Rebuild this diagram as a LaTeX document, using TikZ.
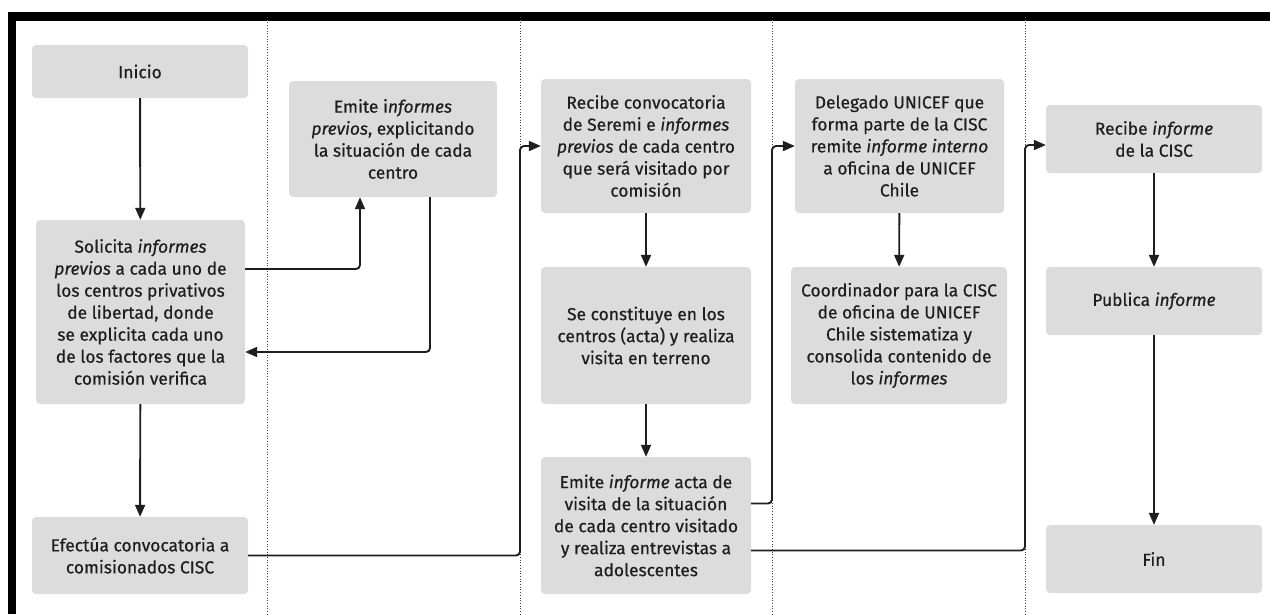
\documentclass[tikz,border=0pt]{standalone}
\usepackage{fontspec}
\setmainfont{Fira Sans}[FakeBold=0.5]
\usetikzlibrary{arrows.meta}
\definecolor{cajagris}{HTML}{DCDCDC}
\definecolor{tinta}{HTML}{1E1E1E}
\tikzset{paso/.style={fill=cajagris, rounded corners=4pt, align=center, inner sep=0pt, text=tinta,
    font=\fontsize{17.4}{22}\selectfont},
  flecha/.style={-{Triangle[length=12pt,width=10pt]}, line width=1.9pt, rounded corners=4pt, tinta},
  carril/.style={dotted, line width=0.7pt, black!75}}

\begin{document}
\begin{tikzpicture}[x=1pt,y=-1pt]
\useasboundingbox (0,0) rectangle (1270,614);
\fill[black] (8,12) rectangle (1270,21);
\fill[black] (8,12) rectangle (16,614);
\foreach \xc/\nombre in {267/l1,520/l2,772/l3,1025/l4}{
  \coordinate (\nombre) at (\xc,0);
  \draw[carril] (\xc,17) -- (\xc,614);
}

\node[paso, minimum width=216pt, minimum height=53pt] (inicio) at (140,71.5) {Inicio};
\node[paso, minimum width=209pt, minimum height=184pt] (solicita) at (140.5,312) {Solicita \textit{informes}\\ \textit{previos} a cada uno de\\ los centros privativos\\ de libertad, donde\\ se explicita cada uno\\ de los factores que la\\ comisión verifica};
\node[paso, minimum width=216pt, minimum height=77pt] (efectua) at (140,555.5) {Efectúa convocatoria a\\ comisionados CISC};
\node[paso, minimum width=208pt, minimum height=116pt] (previos) at (393,139) {Emite i\textit{nformes}\\ \textit{previos}, explicitando\\ la situación de cada\\ centro};
\node[paso, minimum width=210pt, minimum height=134pt] (recibeconv) at (646,146) {Recibe convocatoria\\ de Seremi e \textit{informes}\\ \textit{previos} de cada centro\\ que será visitado por\\ comisión};
\node[paso, minimum width=210pt, minimum height=137pt] (constituye) at (646,335.5) {Se constituye en los\\ centros (acta) y realiza\\ visita en terreno};
\node[paso, minimum width=210pt, minimum height=137pt] (acta) at (646,525.5) {Emite \textit{informe} acta de\\ visita de la situación\\ de cada centro visitado\\ y realiza entrevistas a\\ adolescentes};
\node[paso, minimum width=209pt, minimum height=134pt] (delegado) at (899.5,146) {Delegado UNICEF que\\ forma parte de la CISC\\ remite \textit{informe interno}\\ a oficina de UNICEF\\ Chile};
\node[paso, minimum width=216pt, minimum height=137pt] (coord) at (899,335.5) {Coordinador para la CISC\\ de oficina de UNICEF\\ Chile sistematiza y\\ consolida contenido de\\ los \textit{informes}};
\node[paso, minimum width=216pt, minimum height=68pt] (recibeinf) at (1154,139) {Recibe \textit{informe}\\ de la CISC};
\node[paso, minimum width=216pt, minimum height=68pt] (publica) at (1154,301) {Publica \textit{informe}};
\node[paso, minimum width=216pt, minimum height=68pt] (fin) at (1154,559) {Fin};

\draw[flecha] (inicio) -- (solicita);
\draw[flecha] ([yshift=43pt]solicita.east) -| ([xshift=-33pt]previos.south);
\draw[flecha] ([xshift=37pt]previos.south) |- ([yshift=-40pt]solicita.east);
\draw[flecha] (solicita) -- (efectua);
\draw[flecha] (efectua.east) -- (efectua.east -| l2) |- (recibeconv.west);
\draw[flecha] (recibeconv) -- (constituye);
\draw[flecha] (constituye) -- (acta);
\draw[flecha] ([yshift=22pt]acta.east) -- ([yshift=22pt]acta.east -| l3) |- (delegado.west);
\draw[flecha] (delegado) -- (coord);
\draw[flecha] ([yshift=-25pt]acta.east) -- ([yshift=-25pt]acta.east -| l4) |- ([yshift=-6pt]recibeinf.west);
\draw[flecha] (recibeinf) -- (publica);
\draw[flecha] (publica) -- (fin);
\end{tikzpicture}
\end{document}
